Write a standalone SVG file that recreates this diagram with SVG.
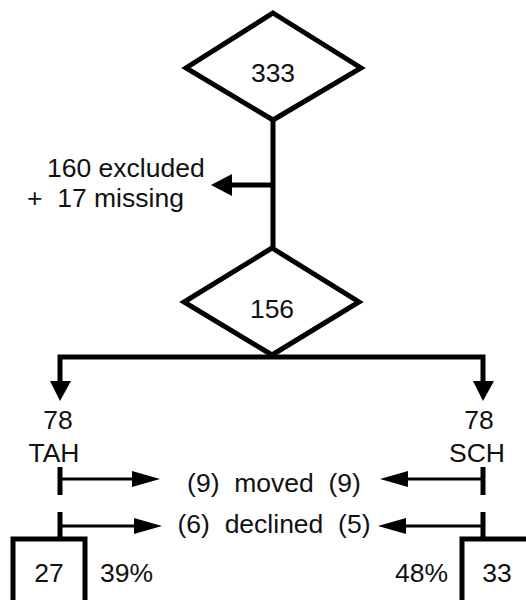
<svg xmlns="http://www.w3.org/2000/svg" width="526" height="600" viewBox="0 0 526 600">
<style>
text{font-family:"Liberation Sans",Arial,sans-serif;font-size:26.5px;fill:#111;}
.shape{fill:#fff;stroke:#000;stroke-width:5;stroke-linejoin:miter;}
.line{fill:none;stroke:#000;stroke-width:5;}
.thin{fill:none;stroke:#000;stroke-width:3.2;}
.head{fill:#000;stroke:none;}
</style>
<rect width="526" height="600" fill="#fff"/>
<g id="connectors">
<line class="line" x1="273" y1="118" x2="273" y2="250"/>
<line class="line" x1="273" y1="185" x2="228" y2="185"/>
<polygon class="head" points="211,185 232,174 232,196"/>
<polyline class="line" points="60,382 60,357 483,357 483,382"/>
<polygon class="head" points="50,381 71,381 60,401"/>
<polygon class="head" points="473,381 494,381 483,401"/>
<line class="line" x1="60" y1="467" x2="60" y2="495"/>
<line class="thin" x1="60" y1="479" x2="136" y2="479"/>
<polygon class="head" points="160,479 132,471 132,487"/>
<line class="line" x1="483" y1="467" x2="483" y2="495"/>
<line class="thin" x1="483" y1="479" x2="404" y2="479"/>
<polygon class="head" points="380,479 408,471 408,487"/>
<line class="line" x1="60" y1="512" x2="60" y2="541"/>
<line class="thin" x1="60" y1="526" x2="138" y2="526"/>
<polygon class="head" points="162,526 134,518 134,534"/>
<line class="line" x1="483" y1="512" x2="483" y2="541"/>
<line class="thin" x1="483" y1="526" x2="402" y2="526"/>
<polygon class="head" points="378,526 406,518 406,534"/>
</g>
<g id="node-333">
<polygon class="shape" points="273,13 361,68 273,120 186,68"/>
<text x="273" y="82" text-anchor="middle">333</text>
</g>
<g id="excluded">
<text x="47" y="177">160 excluded</text>
<text x="27" y="207" xml:space="preserve">+  17 missing</text>
</g>
<g id="node-156">
<polygon class="shape" points="272,248 359,302 272,355 184,302"/>
<text x="272" y="318" text-anchor="middle">156</text>
</g>
<g id="tah">
<text x="58" y="429" text-anchor="middle">78</text>
<text x="54" y="462" text-anchor="middle">TAH</text>
</g>
<g id="sch">
<text x="479" y="429" text-anchor="middle">78</text>
<text x="477" y="462" text-anchor="middle">SCH</text>
</g>
<g id="moved">
<text x="274" y="492" text-anchor="middle" xml:space="preserve">(9)  moved  (9)</text>
</g>
<g id="declined">
<text x="274" y="533" text-anchor="middle" xml:space="preserve">(6)  declined  (5)</text>
</g>
<g id="box-27">
<rect class="shape" x="13" y="539" width="72" height="80"/>
<text x="49" y="582" text-anchor="middle">27</text>
<text x="100" y="582">39%</text>
</g>
<g id="box-33">
<rect class="shape" x="462" y="539" width="80" height="80"/>
<text x="497" y="582" text-anchor="middle">33</text>
<text x="448" y="582" text-anchor="end">48%</text>
</g>
</svg>
